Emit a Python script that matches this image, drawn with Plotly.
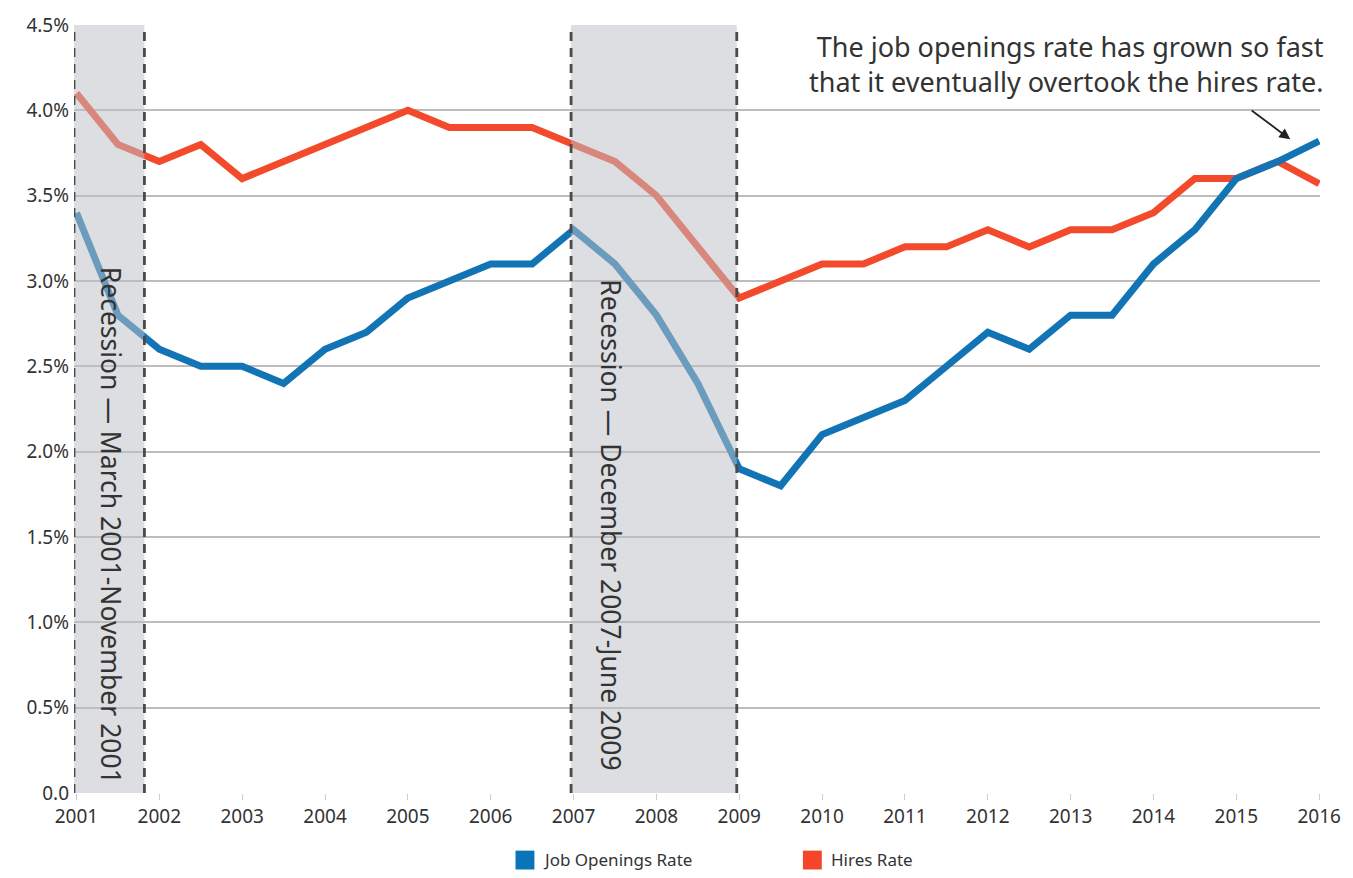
import plotly.graph_objects as go

# ---- data ----
periods = [2001.0, 2001.5, 2002.0, 2002.5, 2003.0, 2003.5, 2004.0, 2004.5,
           2005.0, 2005.5, 2006.0, 2006.5, 2007.0, 2007.5, 2008.0, 2008.5,
           2009.0, 2009.5, 2010.0, 2010.5, 2011.0, 2011.5, 2012.0, 2012.5,
           2013.0, 2013.5, 2014.0, 2014.5, 2015.0, 2015.5, 2016.0]
job_openings_rate = [3.4, 2.8, 2.6, 2.5, 2.5, 2.4, 2.6, 2.7,
                     2.9, 3.0, 3.1, 3.1, 3.3, 3.1, 2.8, 2.4,
                     1.9, 1.8, 2.1, 2.2, 2.3, 2.5, 2.7, 2.6,
                     2.8, 2.8, 3.1, 3.3, 3.6, 3.7, 3.82]
hires_rate = [4.1, 3.8, 3.7, 3.8, 3.6, 3.7, 3.8, 3.9,
              4.0, 3.9, 3.9, 3.9, 3.8, 3.7, 3.5, 3.2,
              2.9, 3.0, 3.1, 3.1, 3.2, 3.2, 3.3, 3.2,
              3.3, 3.3, 3.4, 3.6, 3.6, 3.7, 3.57]
x_tick_years = list(range(2001, 2017))
x_tick_labels = [str(y) for y in x_tick_years]
y_tick_vals = [0, 0.5, 1.0, 1.5, 2.0, 2.5, 3.0, 3.5, 4.0, 4.5]
y_tick_labels = ["0.0", "0.5%", "1.0%", "1.5%", "2.0%", "2.5%", "3.0%", "3.5%", "4.0%", "4.5%"]
recessions = [(2000.97, 2001.82, "Recession — March 2001-November 2001"),
              (2006.97, 2008.97, "Recession — December 2007-June 2009")]
recession_label_x = [2001.42, 2007.45]
series_names = ["Job Openings Rate", "Hires Rate"]

BLUE = "#1273b5"
RED = "#f24a2b"
FONT = "Noto Sans"
TXT = "#333333"

L, R, T, B = 74, 26, 20, 85
W, H = 1353, 878
PW, PH = W - L - R, H - T - B


def px_x(px):
    return (px - L) / PW


def px_y(py):
    return (H - B - py) / PH


fig = go.Figure()
fig.add_trace(go.Scatter(x=periods, y=hires_rate, mode="lines", name=series_names[1],
                         line=dict(color=RED, width=7), showlegend=False, hoverinfo="skip"))
fig.add_trace(go.Scatter(x=periods, y=job_openings_rate, mode="lines", name=series_names[0],
                         line=dict(color=BLUE, width=7), showlegend=False, hoverinfo="skip"))

shapes = []
annotations = []
for (x0, x1, label), lx in zip(recessions, recession_label_x):
    shapes.append(dict(type="rect", xref="x", yref="y", x0=x0, x1=x1, y0=0, y1=4.5,
                       fillcolor="rgba(190,192,198,0.52)", line=dict(width=0), layer="above"))
    for xv in (x0, x1):
        shapes.append(dict(type="line", xref="x", yref="y", x0=xv, x1=xv, y0=0, y1=4.5,
                           line=dict(color="#4a4a4a", width=2.8, dash="9px,7px"), layer="above"))
    annotations.append(dict(x=lx, y=1.57, xref="x", yref="y", text=label, showarrow=False,
                            textangle=90, font=dict(family=FONT, size=26.5, color=TXT),
                            xanchor="center", yanchor="middle"))

annotations.append(dict(x=1, xref="paper", y=4.27, yref="y", xanchor="right", yanchor="middle",
                        xshift=6, align="right", showarrow=False,
                        text="The job openings rate has grown so fast<br>that it eventually overtook the hires rate.",
                        font=dict(family=FONT, size=27, color=TXT)))
annotations.append(dict(x=2015.65, y=3.83, xref="x", yref="y", text="", showarrow=True,
                        ax=-40, ay=-30, arrowhead=2, arrowsize=1.2, arrowwidth=1.8,
                        arrowcolor="#222222"))

# manual legend with square swatches
legend_items = [(518, "#0a74b9", series_names[0]), (807, "#f4472a", series_names[1])]
for sx, col, name in legend_items:
    shapes.append(dict(type="rect", xref="paper", yref="paper",
                       x0=px_x(sx), x1=px_x(sx + 19), y0=px_y(870), y1=px_y(851),
                       fillcolor=col, line=dict(width=0)))
    annotations.append(dict(x=px_x(sx + 26), y=px_y(860), xref="paper", yref="paper",
                            xanchor="left", yanchor="middle", showarrow=False, text=name,
                            font=dict(family=FONT, size=17, color=TXT)))

fig.update_layout(
    width=W, height=H,
    margin=dict(l=L, r=R, t=T, b=B),
    paper_bgcolor="white", plot_bgcolor="white",
    font=dict(family=FONT, color=TXT),
    shapes=shapes, annotations=annotations,
    showlegend=False,
)
fig.update_xaxes(range=[2000.97, 2016.01], tickmode="array", tickvals=x_tick_years,
                 ticktext=x_tick_labels, showgrid=False, zeroline=False, showline=False,
                 ticks="outside", ticklen=6, tickcolor="#cccccc", ticklabelstandoff=0,
                 tickfont=dict(family=FONT, size=19, color=TXT))
fig.update_yaxes(range=[0, 4.5], tickmode="array", tickvals=y_tick_vals, ticktext=y_tick_labels,
                 showgrid=True, gridcolor="#bdbdbd", gridwidth=1.5, zeroline=False,
                 showline=False, ticks="", ticklabelstandoff=4,
                 tickfont=dict(family=FONT, size=19, color=TXT))

fig.write_html("out.html")
